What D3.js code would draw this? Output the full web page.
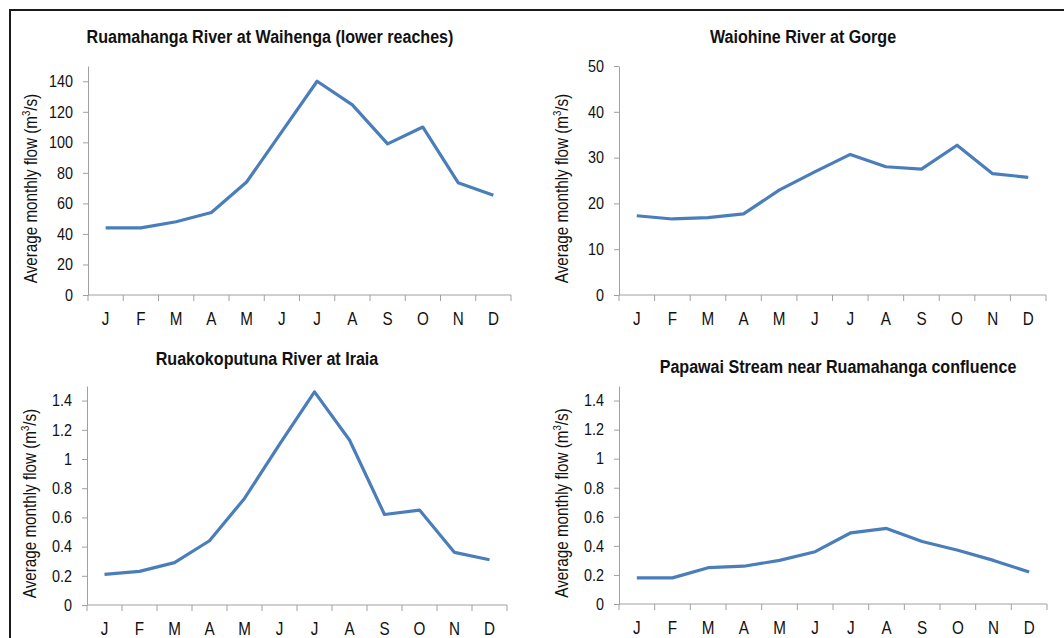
<!DOCTYPE html>
<html>
<head>
<meta charset="utf-8">
<script src="https://cdn.jsdelivr.net/npm/d3@7"></script>
<style>
  body { margin: 0; background: #fff; }
  text { font-family: "Liberation Sans", Arial, sans-serif; fill: #111; }
</style>
</head>
<body>
<div id="chart"></div>
<script>
let width = 1064;
let height = 638;
let squeeze = 0.87; // the original text is narrow, squash it sideways

let months = ["J", "F", "M", "A", "M", "J", "J", "A", "S", "O", "N", "D"];
let ruamahanga = [44, 44, 48, 54, 74, 107, 140, 124.5, 99, 110, 73.6, 65.3];
let waiohine = [17.3, 16.6, 16.9, 17.7, 22.9, 26.9, 30.7, 28.0, 27.5, 32.7, 26.5, 25.7];
let ruakokoputuna = [0.21, 0.23, 0.29, 0.44, 0.73, 1.10, 1.46, 1.13, 0.62, 0.65, 0.36, 0.31];
let papawai = [0.18, 0.18, 0.25, 0.26, 0.30, 0.36, 0.49, 0.52, 0.43, 0.37, 0.30, 0.22];

let titles = ["Ruamahanga River at Waihenga (lower reaches)", "Waiohine River at Gorge",
              "Ruakokoputuna River at Iraia", "Papawai Stream near Ruamahanga confluence"];
let y_max = [150, 50, 1.5, 1.5];
let y_ticks = [[0, 20, 40, 60, 80, 100, 120, 140], [0, 10, 20, 30, 40, 50],
               [0, 0.2, 0.4, 0.6, 0.8, 1, 1.2, 1.4], [0, 0.2, 0.4, 0.6, 0.8, 1, 1.2, 1.4]];

// panel boxes: plot area in page pixels, plus title position
let panels = [
  {values: ruamahanga,    left: 88,  right: 511,  top: 66,  bottom: 295, title_x: 270, title_y: 43},
  {values: waiohine,      left: 619, right: 1046, top: 66,  bottom: 295, title_x: 803, title_y: 43},
  {values: ruakokoputuna, left: 87,  right: 507,  top: 386, bottom: 605, title_x: 267, title_y: 365},
  {values: papawai,       left: 619, right: 1047, top: 386, bottom: 604, title_x: 838, title_y: 373}
];

let svg = d3.select("#chart").append("svg")
            .attr("width", width)
            .attr("height", height);

// outer frame (runs off the right and bottom of the picture)
svg.append("rect")
   .attr("x", 10).attr("y", 10)
   .attr("width", width + 20).attr("height", height + 20)
   .attr("fill", "none")
   .attr("stroke", "#1a1a1a")
   .attr("stroke-width", 2);

let fmt = d => String(+d.toFixed(1));

panels.forEach((p, i) => {
    let g = svg.append("g");

    let x = d3.scaleBand()
              .domain(d3.range(12))
              .range([p.left, p.right]);
    let y = d3.scaleLinear()
              .domain([0, y_max[i]])
              .range([p.bottom, p.top]);

    // y axis
    let ya = g.append("g")
              .attr("transform", `translate(${p.left},0)`)
              .call(d3.axisLeft(y).tickValues(y_ticks[i]).tickFormat(fmt).tickSize(5).tickSizeOuter(0));
    ya.select(".domain").attr("stroke", "#a0a0a0");
    ya.selectAll(".tick line").attr("stroke", "#a0a0a0");
    ya.selectAll(".tick text")
      .attr("x", null)
      .attr("transform", `translate(-15,0) scale(${squeeze},1)`)
      .style("font-size", "16.5px")
      .attr("fill", "#111");

    // x axis, ticks between categories
    let xa = g.append("g")
              .attr("transform", `translate(0,${p.bottom})`);
    xa.append("line")
      .attr("x1", p.left).attr("x2", p.right)
      .attr("stroke", "#a0a0a0");
    xa.selectAll("line.tk")
      .data(d3.range(13))
      .join("line")
      .attr("class", "tk")
      .attr("x1", d => d < 12 ? x(d) : p.right)
      .attr("x2", d => d < 12 ? x(d) : p.right)
      .attr("y1", 0).attr("y2", 6)
      .attr("stroke", "#a0a0a0");
    xa.selectAll("text")
      .data(months)
      .join("text")
      .attr("transform", (d, j) => `translate(${x(j) + x.bandwidth() / 2},30) scale(${squeeze},1)`)
      .attr("text-anchor", "middle")
      .style("font-size", "17.5px")
      .text(d => d);

    // the series line
    let line = d3.line()
                 .x((d, j) => x(j) + x.bandwidth() / 2)
                 .y(d => y(d));
    g.append("path")
     .datum(p.values)
     .attr("d", line)
     .attr("fill", "none")
     .attr("stroke", "#4a7ebb")
     .attr("stroke-width", 3.2)
     .attr("stroke-linejoin", "round");

    // title
    g.append("text")
     .attr("transform", `translate(${p.title_x},${p.title_y}) scale(${squeeze},1)`)
     .attr("text-anchor", "middle")
     .style("font-size", "18.5px")
     .style("font-weight", "bold")
     .text(titles[i]);

    // y axis label
    let lab = g.append("text")
               .attr("transform", `translate(${p.left - 51},${(p.top + p.bottom) / 2 + 8}) rotate(-90) scale(${squeeze},1)`)
               .attr("text-anchor", "middle")
               .style("font-size", "17.5px");
    lab.append("tspan").text("Average monthly flow (m");
    lab.append("tspan").attr("dy", -7).style("font-size", "11px").text("3");
    lab.append("tspan").attr("dy", 7).text("/s)");
});
</script>
</body>
</html>
